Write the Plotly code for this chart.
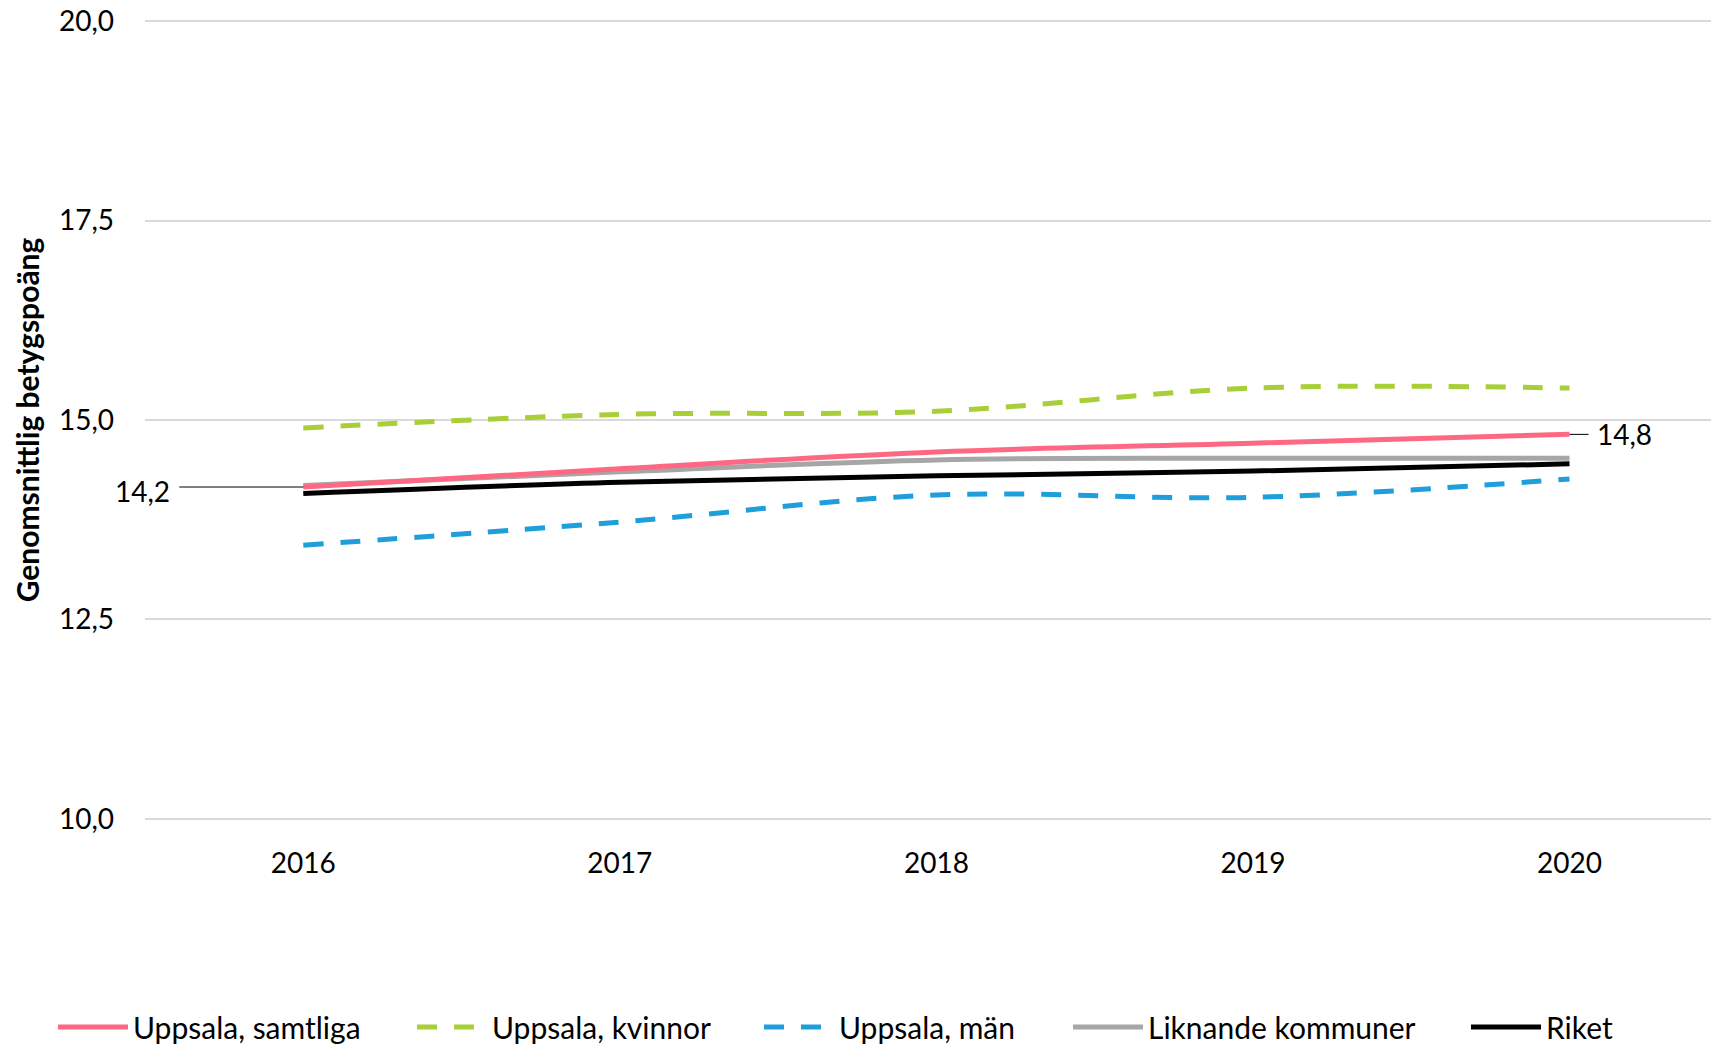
import plotly.graph_objects as go

years = ["2016", "2017", "2018", "2019", "2020"]
uppsala_samtliga = [14.16, 14.39, 14.60, 14.71, 14.82]
uppsala_kvinnor = [14.90, 15.07, 15.11, 15.40, 15.40]
uppsala_man = [13.43, 13.72, 14.06, 14.03, 14.26]
liknande = [14.18, 14.35, 14.50, 14.52, 14.52]
riket = [14.08, 14.22, 14.30, 14.36, 14.45]

FONT = "Lato"
W, H = 1711, 1044
L, R, T, B = 145, 0, 18, 222

series = [
    # name, values, color, dash, legend id, legend left px
    ("Liknande kommuner", liknande, "#A6A6A6", "solid", "legend4", 1068),
    ("Riket", riket, "#000000", "solid", "legend5", 1466),
    ("Uppsala, kvinnor", uppsala_kvinnor, "#A8CF38", "20px,17px", "legend2", 412),
    ("Uppsala, män", uppsala_man, "#1E9FDB", "20px,17px", "legend3", 759),
    ("Uppsala, samtliga", uppsala_samtliga, "#FF6882", "solid", "legend", 53),
]

fig = go.Figure()
legends = {}
for name, vals, color, dash, leg, lx in series:
    fig.add_trace(go.Scatter(
        x=years, y=vals, name=name, mode="lines",
        line=dict(color=color, width=5, dash=dash, shape="spline"),
        legend=leg, showlegend=True, hoverinfo="skip",
    ))
    legends[leg] = dict(
        xref="container", yref="container",
        x=lx / W, xanchor="left", y=1 - 1027 / H, yanchor="middle",
        orientation="h", font=dict(family=FONT, size=30, color="#000"),
        bgcolor="rgba(0,0,0,0)", itemwidth=70,
    )

# data labels for first and last point of the total series
first = f"{uppsala_samtliga[0]:.1f}".replace(".", ",")
last = f"{uppsala_samtliga[-1]:.1f}".replace(".", ",")
fig.add_annotation(x=0, y=uppsala_samtliga[0], xref="x", yref="y", text=first,
                   showarrow=False, xanchor="right", xshift=-131, yshift=-4,
                   font=dict(family=FONT, size=28, color="#000"))
fig.add_annotation(x=4, y=uppsala_samtliga[-1], xref="x", yref="y", text=last,
                   showarrow=False, xanchor="left", xshift=25,
                   font=dict(family=FONT, size=28, color="#000"))
fig.add_shape(type="line", xref="x", yref="y", xsizemode="pixel", xanchor=0,
              x0=-124, x1=0, y0=uppsala_samtliga[0], y1=uppsala_samtliga[0],
              line=dict(color="#000", width=1))
fig.add_shape(type="line", xref="x", yref="y", xsizemode="pixel", xanchor=4,
              x0=0, x1=19, y0=uppsala_samtliga[-1], y1=uppsala_samtliga[-1],
              line=dict(color="#000", width=1))

fig.update_layout(
    width=W, height=H, autosize=False,
    margin=dict(l=L, r=R, t=T, b=B, autoexpand=False),
    paper_bgcolor="white", plot_bgcolor="white",
    separators=", ",
    font=dict(family=FONT, size=28, color="#000"),
    xaxis=dict(type="category", range=[-0.5, 4.447], showgrid=False,
               zeroline=False, showline=False, ticks="", automargin=False,
               ticklabelstandoff=22, tickfont=dict(size=28)),
    yaxis=dict(range=[9.96, 20.04], tickvals=[10, 12.5, 15, 17.5, 20],
               tickformat=".1f", automargin=False,
               showgrid=True, gridcolor="#D9D9D9", gridwidth=1.5,
               zeroline=False, showline=False, ticks="",
               ticklabelstandoff=30, tickfont=dict(size=28),
               title=dict(text="<b>Genomsnittlig betygspoäng</b>",
                          font=dict(family=FONT, size=30), standoff=10)),
    **legends,
)

# the page body has a default 8px margin; drop it so the figure fills the window
fig.write_html("out.html", config={"displayModeBar": False},
               post_script="document.body.style.margin = '0';")
